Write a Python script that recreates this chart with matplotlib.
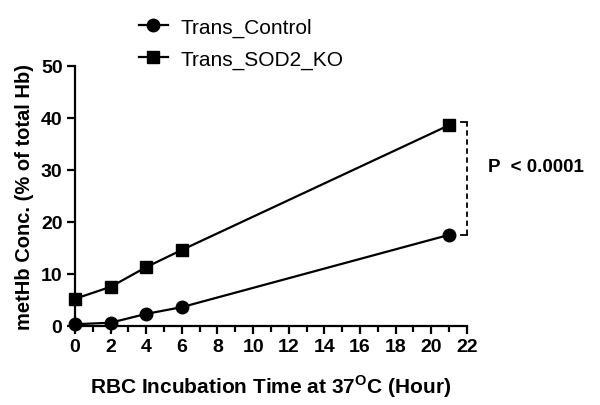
import numpy as np
import matplotlib.pyplot as plt
from matplotlib.ticker import MultipleLocator

plt.rcParams['font.family'] = ['Liberation Sans', 'DejaVu Sans']
plt.rcParams['mathtext.fontset'] = 'custom'
plt.rcParams['mathtext.rm'] = 'Liberation Sans'
plt.rcParams['mathtext.bf'] = 'Liberation Sans:bold'

# --- data ---
hours = [0, 2, 4, 6, 21]
control = [0.3, 0.6, 2.3, 3.6, 17.5]
sod2_ko = [5.2, 7.5, 11.3, 14.6, 38.6]
series_names = ['Trans_Control', 'Trans_SOD2_KO']
p_text = 'P  < 0.0001'

fig = plt.figure(figsize=(6, 4.06), dpi=100)
ax = fig.add_axes([0.125, 0.195, 0.653, 0.64])

l1, = ax.plot(hours, control, '-o', color='black', lw=1.6, ms=9, clip_on=False, zorder=5)
l2, = ax.plot(hours, sod2_ko, '-s', color='black', lw=1.6, ms=9, clip_on=False, zorder=5)

ax.set_xlim(0, 22)
ax.set_ylim(0, 50)
ax.xaxis.set_major_locator(MultipleLocator(2))
ax.xaxis.set_minor_locator(MultipleLocator(1))
ax.yaxis.set_major_locator(MultipleLocator(10))
for s in ['top', 'right']:
    ax.spines[s].set_visible(False)
for s in ['left', 'bottom']:
    ax.spines[s].set_linewidth(1.6)
ax.tick_params(which='major', length=6, width=1.6, labelsize=14, pad=3)
ax.tick_params(which='minor', length=4, width=1.6)
for lab in ax.get_xticklabels() + ax.get_yticklabels():
    lab.set_fontweight('bold')

ax.set_xlabel(r'RBC Incubation Time at 37$^{\mathbf{O}}$C (Hour)', fontsize=15,
              fontweight='bold', labelpad=12)
ax.set_ylabel('metHb Conc. (% of total Hb)', fontsize=14.5, fontweight='bold', labelpad=5)

# significance bracket
y_top, y_bot = sod2_ko[-1], control[-1]
bx = 22.0
ax.plot([bx, bx], [y_bot, y_top + 0.7], ls=(0, (3, 2)), color='black', lw=1.3, clip_on=False)
ax.plot([bx - 0.3, bx], [y_top + 0.7, y_top + 0.7], color='black', lw=1.3, clip_on=False)
ax.plot([bx - 0.3, bx], [y_bot, y_bot], color='black', lw=1.3, clip_on=False)
ax.text(bx + 1.2, 30.6, p_text, fontsize=13.5, fontweight='bold',
        va='center', ha='left', clip_on=False)

fig.legend([l1, l2], series_names, loc='upper left', bbox_to_anchor=(0.2, 1.0),
           frameon=False, fontsize=15, handlelength=1.4, handletextpad=0.6,
           labelspacing=0.6)

fig.savefig('out.png', dpi=100)
